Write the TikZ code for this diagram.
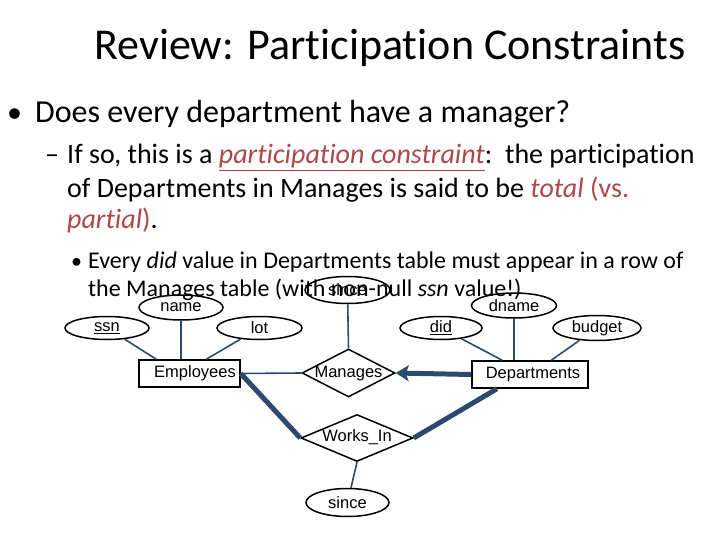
\documentclass[tikz,border=0pt]{standalone}
\usepackage{fontspec}
\setmainfont{Carlito}[Ligatures=NoCommon]
\newfontfamily\arialf{Liberation Sans}
\usetikzlibrary{shapes.geometric,arrows.meta}
\definecolor{accent}{RGB}{172,72,76}
\definecolor{linkc}{RGB}{44,74,112}
\tikzset{
  txt/.style={anchor=base west, inner sep=0pt},
  er/.style={font=\arialf\fontsize{16.5}{18}\selectfont},
  attr/.style={er, draw=black, line width=1.5pt, ellipse, inner sep=0pt},
  entity/.style={er, draw=black, line width=1.5pt, fill=white, rectangle, inner sep=0pt},
  rel/.style={draw=black, line width=1.5pt, diamond, inner sep=0pt},
  conn/.style={draw=linkc, line width=1.6pt},
  thickconn/.style={draw=linkc, line width=5pt},
}
\begin{document}
\begin{tikzpicture}[x=1pt,y=-1pt]
\useasboundingbox (0,0) rectangle (720,540);
% title
\node[anchor=base, inner sep=0pt] (title) at (390,60) {\fontsize{44}{50}\selectfont Review: Participation Constraints};
% bullets
\node[txt] (b1) at (7,123) {\fontsize{30}{36}\selectfont •};
\node[txt] (l1) at (35,123) {\fontsize{32}{36}\selectfont Does every department have a manager?};
\node[txt] (d2) at (45,164) {\fontsize{28}{32}\selectfont –};
\node[txt] (l2) at (67,164) {\fontsize{28}{32}\selectfont If so, this is a \textcolor{accent}{\underline{\textit{participation constraint}}}:\ \ the participation};
\node[txt] (l3) at (67,197) {\fontsize{28}{32}\selectfont of Departments in Manages is said to be \textcolor{accent}{\textit{total} (vs.}};
\node[txt] (l4) at (67,229) {\fontsize{28}{32}\selectfont \textcolor{accent}{\textit{partial})}.};
\node[txt] (b5) at (71,268) {\fontsize{22}{28}\selectfont •};
\node[txt] (l5) at (88,268) {\fontsize{24}{28}\selectfont Every \textit{did} value in Departments table must appear in a row of};
\node[txt] (l6) at (88,296.5) {\fontsize{24}{28}\selectfont the Manages table (with non-null \textit{ssn} value!)};
% entities
\node[entity, minimum width=101, minimum height=27] (emp) at (189.5,373.5) {};
\node[er, inner sep=0pt] (empt) at (195,373.5) {Employees};
\node[entity, minimum width=116, minimum height=27] (dept) at (530,374.5) {};
\node[er, inner sep=0pt] (deptt) at (533,374.5) {Departments};
% relationships
\node[rel, minimum width=93, minimum height=48] (man) at (348.5,373) {};
\node[er, inner sep=0pt] (mant) at (348.5,374) {Manages};
\node[rel, minimum width=112, minimum height=47] (works) at (357,438) {};
\node[er, inner sep=0pt] (workst) at (357,437) {Works\_In};
% attributes
\node[attr, minimum width=84, minimum height=23] (ssn) at (107,328) {\underline{ssn}};
\node[attr, minimum width=84, minimum height=25] (name) at (181,307.5) {name};
\node[attr, minimum width=85, minimum height=23] (lot) at (259.5,328) {lot};
\node[attr, minimum width=85, minimum height=27] (since1) at (347.5,290) {since};
\node[attr, minimum width=82, minimum height=23] (did) at (441,328) {\underline{did}};
\node[attr, minimum width=85, minimum height=25] (dname) at (514,305.5) {dname};
\node[attr, minimum width=88, minimum height=25] (budget) at (597,328) {budget};
\node[attr, minimum width=83, minimum height=28] (since2) at (347.5,502.5) {since};
% connectors
\draw[conn] (ssn) -- ([xshift=18pt]emp.north west);
\draw[conn] (name.south) -- (name.south |- emp.north);
\draw[conn] (lot) -- ([xshift=68pt]emp.north west);
\draw[conn] (did) -- ([xshift=31pt]dept.north west);
\draw[conn] (dname.south) -- (dname.south |- dept.north);
\draw[conn] (budget) -- ([xshift=80pt]dept.north west);
\draw[conn] (since1) -- (man.north);
\draw[conn] (emp.east) -- (man.west);
\draw[conn] (works.south) -- (since2);
\draw[thickconn, -{Stealth[length=13pt,width=16pt,inset=3pt]}] (dept.west) -- (man.east);
\draw[thickconn] (emp.east) -- (works.west);
\draw[thickconn] ([xshift=-33pt]dept.south) -- (works.east);
\end{tikzpicture}
\end{document}
